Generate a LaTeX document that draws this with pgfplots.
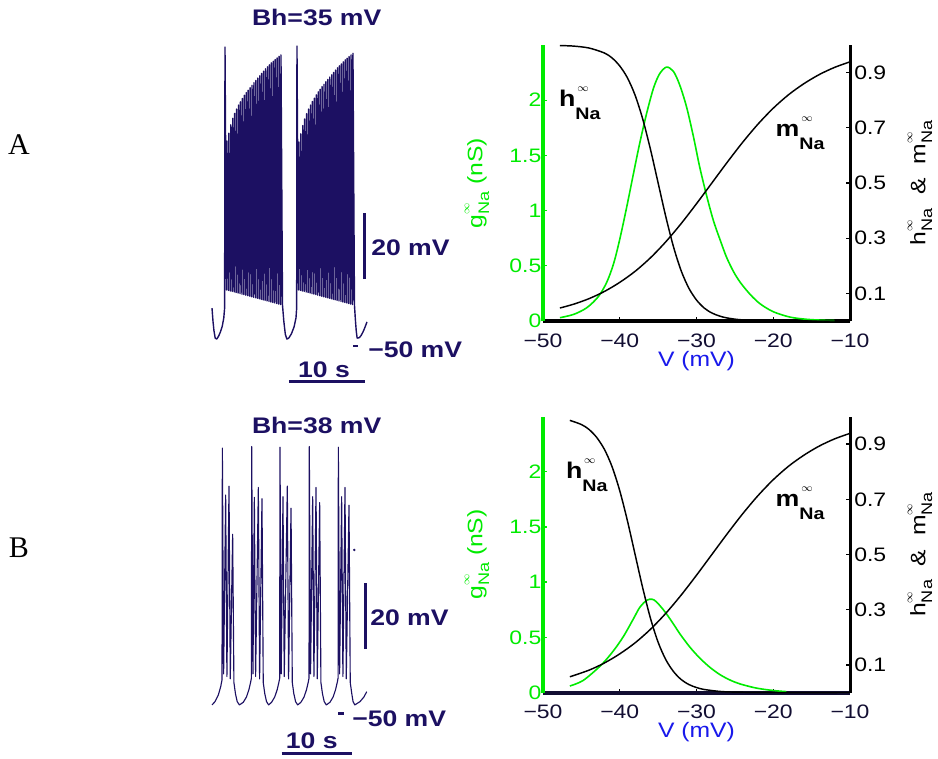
\documentclass[border=0pt]{standalone}
\usepackage{pgfplots}
\pgfplotsset{compat=1.18}
\usepackage{fontspec}
\setmainfont[FakeStretch=1.18]{Liberation Sans}
\newfontfamily\serifpanel{Liberation Serif}

\definecolor{navy}{RGB}{28,16,98}
\definecolor{lime}{RGB}{0,235,0}
\definecolor{vblue}{RGB}{25,25,235}
\definecolor{tickdark}{RGB}{18,14,50}

\newcommand{\tickfont}{\fontsize{14.6pt}{16pt}\selectfont}
\newcommand{\labfont}{\fontsize{15.7pt}{17pt}\selectfont}
\newcommand{\bfont}{\fontsize{16.9pt}{18pt}\selectfont\bfseries}
% gating-variable symbols: letter, raised infinity, lowered "Na"
\newcommand{\gsym}[1]{#1\makebox[0pt][l]{\raisebox{0.62em}{\fontsize{8pt}{8pt}\selectfont$\infty$}}\raisebox{-0.33em}{\fontsize{11.5pt}{12pt}\selectfont Na}}
\newcommand{\gbold}[1]{{\fontsize{17pt}{19pt}\selectfont\bfseries #1\makebox[0pt][l]{\kern0.08em\raisebox{0.66em}{\fontsize{8.5pt}{8.5pt}\selectfont$\infty$}}\raisebox{-0.57em}{\fontsize{12.5pt}{13pt}\selectfont\bfseries Na}}}

\pgfplotsset{
  condpanel/.style={
    scale only axis, width=230.25pt, height=207pt,
    xmin=-50, xmax=-10, clip=false,
    tick align=inside, major tick length=3pt,
  },
  tracepanel/.style={
    scale only axis, hide axis, clip=false,
  },
}

\begin{document}
\begin{tikzpicture}
\path[use as bounding box] (0,0) rectangle (703.5pt,-569.25pt);

%% ---------------- row A: voltage trace, Bh = 35 mV ----------------
\begin{axis}[tracepanel, at={(159pt,-294.15pt)}, anchor=south west,
  width=116.85pt, height=272.25pt, xmin=0, xmax=20.5, ymin=-64, ymax=46]
\addplot[navy, line width=1.05pt, line join=round] coordinates {
 (0,-38.5) (0.13,-42.5) (0.26,-45.4) (0.42,-47.6) (0.62,-47.9) (0.85,-47.1)
 (1.1,-45.8) (1.35,-44.0) (1.55,-41.5) (1.66,-38.5)
 (1.710,40.6) (1.910,-33.00)
 (1.964,12.1) (2.164,-33.16)
 (2.218,14.5) (2.418,-33.32)
 (2.472,17.0) (2.672,-33.48)
 (2.726,19.0) (2.926,-33.64)
 (2.980,20.5) (3.180,-33.80)
 (3.234,21.8) (3.434,-33.95)
 (3.488,23.0) (3.688,-34.11)
 (3.742,24.0) (3.942,-34.27)
 (3.996,25.0) (4.196,-34.43)
 (4.250,26.0) (4.450,-34.59)
 (4.504,26.8) (4.704,-34.75)
 (4.758,27.5) (4.958,-34.91)
 (5.012,28.3) (5.212,-35.07)
 (5.266,29.0) (5.466,-35.23)
 (5.520,29.8) (5.720,-35.39)
 (5.774,30.5) (5.974,-35.54)
 (6.028,31.2) (6.228,-35.70)
 (6.282,31.9) (6.482,-35.86)
 (6.536,32.6) (6.736,-36.02)
 (6.790,33.3) (6.990,-36.18)
 (7.044,34.0) (7.244,-36.34)
 (7.298,34.6) (7.498,-36.50)
 (7.552,35.2) (7.752,-36.66)
 (7.806,35.8) (8.006,-36.82)
 (8.060,36.3) (8.260,-36.98)
 (8.314,36.8) (8.514,-37.13)
 (8.568,37.3) (8.768,-37.29)
 (8.822,37.8) (9.022,-37.45)
 (9.076,38.2) (9.276,-37.61)
 (9.45,-42.5) (9.65,-46.5) (9.85,-47.9) (10.1,-47.6) (10.45,-46.3)
 (10.8,-44.2) (11.05,-41.5) (11.14,-38.5)
 (11.180,40.9) (11.380,-33.00)
 (11.434,11.8) (11.634,-33.16)
 (11.688,14.3) (11.888,-33.32)
 (11.942,16.8) (12.142,-33.48)
 (12.196,18.8) (12.396,-33.64)
 (12.450,20.4) (12.650,-33.80)
 (12.704,21.8) (12.904,-33.95)
 (12.958,23.0) (13.158,-34.11)
 (13.212,24.1) (13.412,-34.27)
 (13.466,25.1) (13.666,-34.43)
 (13.720,26.1) (13.920,-34.59)
 (13.974,27.0) (14.174,-34.75)
 (14.228,27.8) (14.428,-34.91)
 (14.482,28.6) (14.682,-35.07)
 (14.736,29.3) (14.936,-35.23)
 (14.990,30.1) (15.190,-35.39)
 (15.244,30.8) (15.444,-35.54)
 (15.498,31.5) (15.698,-35.70)
 (15.752,32.2) (15.952,-35.86)
 (16.006,32.9) (16.206,-36.02)
 (16.260,33.6) (16.460,-36.18)
 (16.514,34.3) (16.714,-36.34)
 (16.768,34.9) (16.968,-36.50)
 (17.022,35.5) (17.222,-36.66)
 (17.276,36.1) (17.476,-36.82)
 (17.530,36.7) (17.730,-36.98)
 (17.784,37.2) (17.984,-37.13)
 (18.038,37.7) (18.238,-37.29)
 (18.292,38.2) (18.492,-37.45)
 (18.546,38.7) (18.746,-37.61)
 (18.85,-41.5) (18.98,-45.5) (19.1,-47.6) (19.35,-47.5) (19.6,-46.9)
 (19.9,-45.6) (20.15,-44.2) (20.39,-42.7)
};
% scale bars and -50 mV level
\addplot[navy, line width=2.25pt] coordinates {(20.13,-29.7) (20.13,-9.7)};
\addplot[navy, line width=2.25pt] coordinates {(10.13,-60.9) (20.13,-60.9)};
\addplot[navy, line width=2pt] coordinates {(18.6,-50) (19.2,-50)};
\end{axis}

%% ---------------- row B: voltage trace, Bh = 38 mV ----------------
\begin{axis}[tracepanel, at={(159pt,-568.5375pt)}, anchor=south west,
  width=117.075pt, height=241.3125pt, xmin=0, xmax=22.3, ymin=-63.5, ymax=34]
\addplot[navy, line width=0.85pt, line join=round] coordinates {
 (0,-47.4) (0.43,-46.4) (0.9,-44.4) (1.24,-41.9) (1.43,-39.8)
 (1.48,30.4) (1.66,-38.0) (1.95,16.2) (2.13,-38.8) (2.43,18.9) (2.61,-39.5)
 (2.95,4.3) (3.13,-40.6) (3.35,-44.0) (3.6,-46.4) (3.92,-47.4)
 (4.47,-46.6) (4.92,-45.0) (5.27,-42.8) (5.52,-40.5) (5.63,-39.3)
 (5.67,30.9) (5.85,-38.0) (6.05,15.5) (6.23,-38.8) (6.62,18.5) (6.80,-39.5)
 (7.14,15.1) (7.32,-40.6) (7.54,-44.0) (7.79,-46.4) (8.09,-47.4)
 (8.51,-46.6) (8.96,-45.0) (9.31,-42.8) (9.56,-40.5) (9.67,-39.3)
 (9.71,30.7) (9.89,-38.0) (10.14,15.7) (10.32,-38.8) (10.76,18.9) (10.94,-39.5)
 (11.29,12.2) (11.47,-40.6) (11.69,-44.0) (11.94,-46.4) (12.24,-47.4)
 (12.7,-46.6) (13.15,-45.0) (13.5,-42.8) (13.75,-40.5) (13.86,-39.3)
 (13.9,30.9) (14.08,-38.0) (14.38,15.7) (14.56,-38.8) (14.86,18.5) (15.04,-39.5)
 (15.38,13.9) (15.56,-40.6) (15.78,-44.0) (16.03,-46.4) (16.33,-47.4)
 (16.85,-46.6) (17.3,-45.0) (17.65,-42.8) (17.9,-40.5) (18.01,-39.3)
 (18.05,30.7) (18.23,-38.0) (18.52,15.7) (18.70,-38.8) (19.0,18.5) (19.18,-39.5)
 (19.57,13.1) (19.75,-40.6) (19.97,-44.0) (20.15,-46.4) (20.4,-47.4)
 (21.14,-46.4) (21.7,-45.0) (22.1,-43.4)
};
\addplot[navy, only marks, mark=*, mark size=0.7pt] coordinates {(20.33,-0.45)};
\addplot[navy, line width=2.25pt] coordinates {(21.86,-30.5) (21.86,-10.4)};
\addplot[navy, line width=2.25pt] coordinates {(9.96,-62.1) (19.96,-62.1)};
\addplot[navy, line width=2pt] coordinates {(18.0,-50) (18.8,-50)};
\end{axis}

%% ---------------- row A: steady-state curves ----------------
\begin{axis}[condpanel, at={(407.25pt,-240.75pt)}, anchor=south west,
  ymin=0, ymax=2.5,
  axis x line*=bottom, axis y line*=left,
  x axis line style={line width=3pt, black, -},
  y axis line style={line width=3pt, lime, -},
  xtick={-50,-40,-30,-20,-10}, xticklabels={−50,−40,−30,−20,−10},
  ytick={0,0.5,1,1.5,2}, yticklabels={0,0.5,1,1.5,2},
  x tick style={black, line width=1pt}, y tick style={lime, line width=1pt},
  xticklabel style={font=\tickfont, text=tickdark, yshift=-6pt},
  yticklabel style={font=\tickfont, text=lime, inner sep=1pt},
  xlabel={V (mV)},
  xlabel style={font=\labfont, text=vblue, at={(axis description cs:0.5,-0.145)}, anchor=center},
  ylabel={\gsym{g} (nS)},
  ylabel style={font=\labfont, text=lime, at={(axis description cs:-0.215,0.5)}, anchor=center},
]
\addplot[lime, line width=1.2pt, smooth] coordinates {
 (-47.8,0.03) (-46.0,0.06) (-44.3,0.12) (-42.8,0.22) (-41.7,0.35) (-40.8,0.52)
 (-40.0,0.74) (-39.1,1.03) (-38.2,1.34) (-37.4,1.61) (-36.5,1.88) (-35.6,2.11)
 (-34.8,2.24) (-33.9,2.30) (-33.0,2.26) (-32.2,2.14) (-31.3,1.94) (-30.4,1.67)
 (-29.6,1.40) (-28.7,1.14) (-27.8,0.91) (-26.9,0.73) (-26.1,0.58) (-25.2,0.45)
 (-24.3,0.35) (-23.0,0.24) (-21.7,0.155) (-20.0,0.084) (-17.8,0.035) (-15.6,0.015)
 (-13.5,0.007) (-12.0,0.004)
};
\node at (axis cs:-45.2,1.97) {\gbold{h}};
\node at (axis cs:-16.5,1.70) {\gbold{m}};
\end{axis}
\begin{axis}[condpanel, at={(407.25pt,-240.75pt)}, anchor=south west,
  ymin=0, ymax=1,
  axis x line=none, axis y line*=right,
  y axis line style={line width=2.25pt, black, -},
  ytick={0.1,0.3,0.5,0.7,0.9}, yticklabels={0.1,0.3,0.5,0.7,0.9},
  y tick style={black, line width=1pt},
  yticklabel style={font=\tickfont, text=black, inner sep=1pt, xshift=2pt},
  ylabel={\gsym{h}\ \ \&\ \ \gsym{m}},
  ylabel style={font=\labfont, at={(axis description cs:1.228,0.5)}, anchor=center},
]
\addplot[black, line width=1.1pt, smooth] coordinates {
 (-47.8,0.998) (-46,0.996) (-44,0.989) (-42,0.971) (-41,0.953) (-40,0.924)
 (-39,0.881) (-38,0.818) (-37,0.731) (-36,0.622) (-35,0.5) (-34,0.378)
 (-33,0.269) (-32,0.182) (-31,0.119) (-30,0.076) (-29,0.047) (-28,0.029)
 (-27,0.018) (-26,0.011) (-24,0.004) (-20,0.001) (-15,0) (-10,0)
};
\addplot[black, line width=1.1pt, smooth] coordinates {
 (-47.8,0.047) (-46,0.061) (-44,0.081) (-42,0.107) (-40,0.140) (-38,0.180)
 (-36,0.229) (-34,0.287) (-32,0.353) (-30,0.425) (-28,0.5) (-26,0.575)
 (-24,0.647) (-22,0.713) (-20,0.771) (-18,0.820) (-16,0.860) (-14,0.893)
 (-12,0.919) (-10,0.939)
};
\end{axis}

%% ---------------- row B: steady-state curves ----------------
\begin{axis}[condpanel, at={(407.25pt,-519.375pt)}, anchor=south west,
  ymin=0, ymax=2.5,
  axis x line*=bottom, axis y line*=left,
  x axis line style={line width=3pt, tickdark, -},
  y axis line style={line width=3pt, lime, -},
  xtick={-50,-40,-30,-20,-10}, xticklabels={−50,−40,−30,−20,−10},
  ytick={0,0.5,1,1.5,2}, yticklabels={0,0.5,1,1.5,2},
  x tick style={black, line width=1pt}, y tick style={lime, line width=1pt},
  xticklabel style={font=\tickfont, text=tickdark, yshift=-6pt},
  yticklabel style={font=\tickfont, text=lime, inner sep=1pt},
  xlabel={V (mV)},
  xlabel style={font=\labfont, text=vblue, at={(axis description cs:0.5,-0.145)}, anchor=center},
  ylabel={\gsym{g} (nS)},
  ylabel style={font=\labfont, text=lime, at={(axis description cs:-0.215,0.5)}, anchor=center},
]
\addplot[lime, line width=1.2pt, smooth] coordinates {
 (-46.5,0.059) (-44.75,0.11) (-42.4,0.25) (-40.8,0.38) (-39.5,0.51) (-38.2,0.67)
 (-37.4,0.77) (-36.5,0.835) (-35.8,0.845) (-35.2,0.82) (-34.1,0.73) (-33.0,0.62)
 (-32.15,0.53) (-30.85,0.41) (-29.55,0.31) (-28.2,0.225) (-26.9,0.16) (-25.6,0.112)
 (-24.3,0.077) (-22.2,0.040) (-20.0,0.018) (-18.3,0.008)
};
\node at (axis cs:-44.3,1.97) {\gbold{h}};
\node at (axis cs:-16.5,1.71) {\gbold{m}};
\end{axis}
\begin{axis}[condpanel, at={(407.25pt,-519.375pt)}, anchor=south west,
  ymin=0, ymax=1,
  axis x line=none, axis y line*=right,
  y axis line style={line width=2.25pt, black, -},
  ytick={0.1,0.3,0.5,0.7,0.9}, yticklabels={0.1,0.3,0.5,0.7,0.9},
  y tick style={black, line width=1pt},
  yticklabel style={font=\tickfont, text=black, inner sep=1pt, xshift=2pt},
  ylabel={\gsym{h}\ \ \&\ \ \gsym{m}},
  ylabel style={font=\labfont, at={(axis description cs:1.228,0.5)}, anchor=center},
]
\addplot[black, line width=1.1pt, smooth] coordinates {
 (-46.5,0.986) (-45,0.971) (-44,0.953) (-43,0.924) (-42,0.881) (-41,0.818)
 (-40,0.731) (-39,0.622) (-38,0.5) (-37,0.378) (-36,0.269) (-35,0.182)
 (-34,0.119) (-33,0.076) (-32,0.047) (-31,0.029) (-30,0.018) (-29,0.011)
 (-27,0.004) (-25,0.0015) (-20,0) (-10,0)
};
\addplot[black, line width=1.1pt, smooth] coordinates {
 (-46.5,0.057) (-44,0.081) (-42,0.107) (-40,0.140) (-38,0.180)
 (-36,0.229) (-34,0.287) (-32,0.353) (-30,0.425) (-28,0.5) (-26,0.575)
 (-24,0.647) (-22,0.713) (-20,0.771) (-18,0.820) (-16,0.860) (-14,0.893)
 (-12,0.919) (-10,0.939)
};
\end{axis}

%% ---------------- annotations (1 unit = 1 px of the layout grid) ----------------
\begin{scope}[x=0.75pt, y=-0.75pt, every node/.style={text=navy, font=\bfont, inner sep=0pt}]
\node at (316.7,17) {Bh=35 mV};
\node[anchor=west] at (371,248) {20 mV};
\node[anchor=west] at (368,350) {−50 mV};
\node at (324,370) {10 s};
\node at (316.7,425) {Bh=38 mV};
\node[anchor=west] at (370,618) {20 mV};
\node[anchor=west] at (352,719) {−50 mV};
\node at (311.7,741) {10 s};
\node[text=black, font=\serifpanel\fontsize{22.5pt}{24pt}\selectfont] at (19,145) {A};
\node[text=black, font=\serifpanel\fontsize{22.5pt}{24pt}\selectfont] at (19,548) {B};
\end{scope}
\end{tikzpicture}
\end{document}
